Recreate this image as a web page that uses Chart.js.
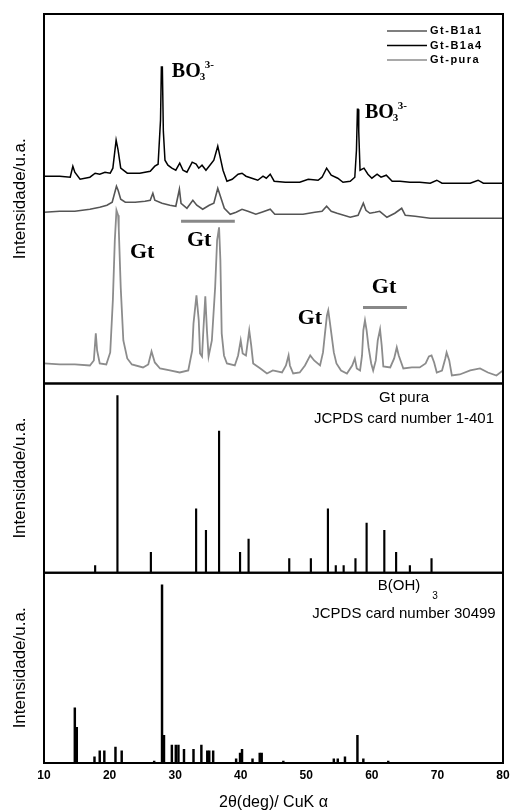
<!DOCTYPE html>
<html>
<head>
<meta charset="utf-8">
<title>DRX goethita</title>
<script src="https://cdn.jsdelivr.net/npm/chart.js@4.4.1/dist/chart.umd.min.js"></script>
<style>
  html, body { margin: 0; padding: 0; background: #fff; }
  #wrap { width: 510px; height: 812px; position: relative; }
</style>
</head>
<body>
<div id="wrap"><canvas id="xrd"></canvas></div>
<script>
// 2θ axis labels
const angleTicks = [10, 20, 30, 40, 50, 60, 70, 80];

// Gt-B1a4 (top trace, stacked intensity)
const b1a4Angle = [10, 12.4, 14.0, 14.4, 14.7, 15.5, 17.0, 17.8, 18.5, 19.3, 20.1, 20.5, 21.0, 21.3, 21.7, 22.7, 24.6, 26.2, 26.9, 27.4,
  27.77, 27.9, 28.05, 28.2, 28.45, 28.9, 29.5, 30.1, 30.7, 31.2, 31.8, 32.6, 33.2, 33.6, 34.1, 34.7, 35.3, 35.9, 36.5, 36.8,
  37.3, 37.9, 38.7, 39.6, 40.2, 40.8, 41.7, 42.6, 43.4, 43.9, 44.5, 45.1, 46.8, 49.0, 50.3, 51.8, 52.4, 53.1, 53.8, 54.8,
  55.6, 56.7, 57.4, 57.65, 57.8, 57.9, 58.0, 58.2, 58.8, 59.4, 60.0, 60.8, 61.4, 62.2, 63.1, 64.3, 65.8, 67.3, 68.9, 69.9,
  70.7, 72.7, 75.0, 76.2, 77.0, 80.0];
const b1a4Int = [207, 207, 206, 217, 211, 204, 206, 210, 209, 211, 210, 215, 243, 233, 215, 210, 210, 212, 217, 219,
  263, 316, 316, 252, 223, 218, 215, 213, 220, 213, 211, 221, 219, 215, 218, 213, 218, 223, 237, 228,
  213, 202, 204, 209, 210, 207, 205, 203, 207, 205, 209, 202, 201, 201, 204, 203, 206, 215, 208, 205,
  201, 202, 206, 233, 274, 274, 252, 213, 215, 209, 205, 209, 206, 208, 202, 202, 201, 201, 200, 203,
  200, 200, 200, 203, 200, 200];

// Gt-B1a1 (middle trace)
const b1a1Angle = [10, 12.4, 14.7, 17.0, 18.5, 19.6, 20.4, 21.05, 21.3, 21.7, 22.4, 23.9, 25.4, 26.2, 26.6, 26.9, 28.0, 29.2, 30.1, 30.65,
  30.9, 31.8, 32.7, 33.3, 34.2, 35.2, 35.9, 36.5, 36.8, 37.5, 38.4, 39.3, 40.2, 41.1, 42.3, 43.2, 44.5, 45.2, 47.5, 49.5,
  51.3, 52.4, 53.1, 53.8, 54.7, 56.7, 57.9, 58.7, 59.1, 59.7, 60.5, 61.2, 62.3, 63.5, 64.55, 65.1, 66.6, 68.9, 71.9, 75.0,
  78.0, 80.0];
const b1a1Int = [171, 172, 172, 174, 176, 178, 181, 197, 193, 184, 181, 181, 182, 183, 190, 183, 180, 178, 177, 194,
  180, 175, 183, 178, 174, 178, 180, 195, 189, 175, 169, 171, 174, 172, 169, 171, 174, 169, 169, 169,
  171, 172, 177, 172, 170, 166, 168, 180, 173, 170, 171, 172, 166, 170, 175, 168, 167, 165, 165, 165,
  165, 165];

// Gt-pura (bottom trace)
const puraAngle = [10, 12.4, 14.7, 17.0, 17.6, 17.9, 18.1, 18.5, 19.5, 20.1, 20.5, 20.8, 21.05, 21.3, 21.4, 21.7, 22.1, 22.7, 23.4, 25.1,
  25.9, 26.4, 26.9, 27.7, 29.2, 30.7, 32.0, 32.6, 32.8, 33.25, 33.6, 33.8, 34.1, 34.3, 34.6, 34.85, 35.1, 35.6, 36.1, 36.4,
  36.7, 36.9, 37.1, 37.45, 37.9, 39.1, 39.6, 40.0, 40.3, 40.8, 41.3, 41.6, 41.9, 43.0, 44.0, 44.9, 46.3, 46.9, 47.3, 47.5,
  48.0, 49.0, 49.8, 50.6, 51.2, 52.1, 52.55, 52.85, 53.15, 53.35, 53.6, 53.9, 54.2, 54.6, 55.3, 56.2, 57.0, 57.4, 57.7, 58.2,
  58.5, 58.7, 58.95, 59.2, 59.5, 59.9, 60.2, 60.6, 60.9, 61.25, 61.5, 61.75, 62.8, 63.4, 63.8, 64.1, 64.8, 66.1, 67.3, 68.2,
  68.7, 69.1, 69.5, 69.9, 70.7, 71.2, 71.4, 71.8, 72.2, 73.4, 75.0, 76.5, 77.7, 79.0, 80.0];
const puraInt = [20, 19, 19, 18, 23, 50, 33, 20, 19, 31, 83, 143, 173, 168, 155, 96, 43, 25, 19, 16,
  19, 32, 21, 15, 13, 11, 13, 33, 60, 88, 63, 30, 27, 53, 87, 53, 27, 43, 96, 143,
  156, 123, 50, 28, 20, 18, 28, 43, 30, 28, 53, 38, 20, 15, 10, 13, 11, 18, 28, 18,
  10, 11, 18, 28, 23, 18, 31, 50, 68, 73, 61, 46, 31, 20, 13, 10, 18, 25, 15, 13,
  28, 53, 63, 53, 36, 20, 13, 23, 43, 54, 38, 17, 16, 25, 36, 28, 15, 16, 16, 20,
  27, 28, 21, 11, 13, 25, 31, 23, 8, 9, 13, 15, 11, 8, 13];

// goethite reference lines, JCPDS 1-401 (relative intensity)
const gtCardAngle = [17.8, 21.2, 26.3, 33.2, 34.7, 36.7, 39.9, 41.2, 47.4, 50.7, 53.3, 54.5, 55.7, 57.5, 59.2, 61.9, 63.7, 65.8, 69.1];
const gtCardInt = [4, 100, 11.5, 36, 24, 80, 11.5, 19, 8, 8, 36, 4, 4, 8, 28, 24, 11.5, 4, 8];

// boric acid reference lines, JCPDS 30499 (relative intensity)
const bohCardAngle = [14.7, 15.0, 17.7, 18.5, 19.2, 20.9, 21.85, 26.8, 28.0, 28.3, 29.5, 30.1, 30.5, 31.35, 32.8, 34.0, 34.9, 35.2, 35.8,
  39.3, 39.9, 40.2, 41.8, 42.9, 43.2, 46.5, 54.2, 54.8, 55.9, 57.8, 58.7, 62.5];
const bohCardInt = [31, 20, 3.4, 6.8, 6.8, 9, 6.8, 1.1, 100, 15.6, 10, 10, 10, 7.7, 7.7, 10, 6.8, 6.8, 6.8,
  2.4, 5.6, 7.7, 2.4, 5.6, 5.6, 1.1, 2.3, 2.3, 3.4, 15.6, 2.3, 1.1];

const toPoints = (xs, ys) => xs.map((a, i) => ({ x: a, y: ys[i] }));

const SANS = '"Liberation Sans", Arial, sans-serif';
const SERIF = '"Liberation Serif", "Times New Roman", serif';

// box around each stacked panel
const panelFrames = {
  id: 'panelFrames',
  afterDatasetsDraw(chart) {
    const { ctx, chartArea, scales } = chart;
    ctx.save();
    ctx.strokeStyle = '#000';
    ctx.lineWidth = 2;
    ['yTop', 'yMid', 'yBot'].forEach(id => {
      const s = scales[id];
      ctx.strokeRect(chartArea.left, s.top, chartArea.right - chartArea.left, s.bottom - s.top);
    });
    ctx.restore();
  }
};

// peak labels, legend and card captions
const xrdLabels = {
  id: 'xrdLabels',
  afterDatasetsDraw(chart) {
    const { ctx, chartArea, scales: { x, yTop, yMid, yBot } } = chart;
    const px = v => x.getPixelForValue(v);
    const py = v => yTop.getPixelForValue(v);
    ctx.save();
    ctx.fillStyle = '#000';
    ctx.textBaseline = 'alphabetic';

    const borate = (deg, val) => {
      const cx = px(deg), cy = py(val);
      ctx.textAlign = 'left';
      ctx.font = 'bold 20px ' + SERIF;
      ctx.fillText('BO', cx, cy);
      const w = ctx.measureText('BO').width;
      ctx.font = 'bold 11px ' + SERIF;
      ctx.fillText('3', cx + w - 1, cy + 3);
      ctx.fillText('3-', cx + w + 4, cy - 9);
    };
    borate(29.5, 306);
    borate(58.95, 265);

    ctx.font = 'bold 22px ' + SERIF;
    ctx.textAlign = 'left';
    [[23.1, 125], [31.8, 137], [48.7, 59], [60.0, 90]].forEach(([d, v]) => ctx.fillText('Gt', px(d), py(v)));

    ctx.strokeStyle = '#888';
    ctx.lineWidth = 3;
    [[30.9, 39.1, 162], [58.65, 65.35, 76]].forEach(([a, b, v]) => {
      ctx.beginPath();
      ctx.moveTo(px(a), py(v));
      ctx.lineTo(px(b), py(v));
      ctx.stroke();
    });

    // legend
    const r = chartArea.right;
    ctx.font = 'bold 11px ' + SANS;
    ctx.textBaseline = 'middle';
    ctx.letterSpacing = '1.5px';
    ctx.lineWidth = 1.5;
    const lineSets = chart.data.datasets.filter(d => d.type === 'line');
    lineSets.forEach((d, i) => {
      const y = yTop.top + 17 + i * 14.5;
      ctx.strokeStyle = d.borderColor;
      ctx.beginPath();
      ctx.moveTo(r - 116, y);
      ctx.lineTo(r - 76, y);
      ctx.stroke();
      ctx.fillText(d.label, r - 73, y);
    });
    ctx.letterSpacing = '0px';

    // card captions
    ctx.textBaseline = 'alphabetic';
    ctx.textAlign = 'center';
    ctx.font = '15px ' + SANS;
    const cx = r - 99;
    ctx.fillText('Gt pura', cx, yMid.top + 19);
    ctx.fillText('JCPDS card number 1-401', cx, yMid.top + 40);
    ctx.fillText('B(OH)', cx - 5, yBot.top + 17);
    ctx.font = '10px ' + SANS;
    ctx.fillText('3', cx + 31, yBot.top + 26);
    ctx.font = '15px ' + SANS;
    ctx.fillText('JCPDS card number 30499', cx, yBot.top + 45);
    ctx.restore();
  }
};

const yTitle = {
  display: true,
  text: 'Intensidade/u.a.',
  color: '#000',
  font: { family: SANS, size: 17 },
  padding: { top: 10, bottom: 0 }
};

const panelAxis = (weight, max) => ({
  type: 'linear',
  position: 'left',
  stack: 'xrd',
  stackWeight: weight,
  min: 0,
  max: max,
  ticks: { display: false },
  grid: { display: false, drawTicks: false },
  border: { display: false },
  title: yTitle,
  afterFit: s => { s.width = 44; }
});

new Chart(document.getElementById('xrd'), {
  type: 'line',
  data: {
    datasets: [
      { type: 'line', label: 'Gt-B1a1', data: toPoints(b1a1Angle, b1a1Int), yAxisID: 'yTop',
        borderColor: '#555', borderWidth: 1.6, pointRadius: 0, tension: 0 },
      { type: 'line', label: 'Gt-B1a4', data: toPoints(b1a4Angle, b1a4Int), yAxisID: 'yTop',
        borderColor: '#000', borderWidth: 1.5, pointRadius: 0, tension: 0 },
      { type: 'line', label: 'Gt-pura', data: toPoints(puraAngle, puraInt), yAxisID: 'yTop',
        borderColor: '#8c8c8c', borderWidth: 1.8, pointRadius: 0, tension: 0 },
      { type: 'bar', label: 'JCPDS 1-401', data: toPoints(gtCardAngle, gtCardInt), yAxisID: 'yMid',
        backgroundColor: '#000', barThickness: 1.5, grouped: false, borderWidth: 0 },
      { type: 'bar', label: 'JCPDS 30499', data: toPoints(bohCardAngle, bohCardInt), yAxisID: 'yBot',
        backgroundColor: '#000', barThickness: 1.8, grouped: false, borderWidth: 0 }
    ]
  },
  options: {
    responsive: true,
    maintainAspectRatio: false,
    animation: false,
    devicePixelRatio: 1,
    layout: { padding: { top: 14, right: 7, left: 0, bottom: 0 } },
    plugins: { legend: { display: false }, tooltip: { enabled: false } },
    scales: {
      x: {
        type: 'linear',
        position: 'bottom',
        min: 10,
        max: 80,
        offset: false,
        afterBuildTicks: s => { s.ticks = angleTicks.map(v => ({ value: v })); },
        ticks: { color: '#000', padding: 5, maxRotation: 0, autoSkip: false,
          font: { family: SANS, size: 12, weight: 'bold' } },
        grid: { display: false, drawTicks: false },
        border: { display: false },
        title: { display: true, text: '2θ(deg)/ CuK α', color: '#000',
          font: { family: SANS, size: 16 }, padding: { top: 6, bottom: 0 } },
        afterFit: s => {
          s.height = 49;
          // the end labels may hang over the plot edges
          s.paddingLeft = 0;
          s.paddingRight = 0;
        }
      },
      yBot: panelAxis(190, 106.8),
      yMid: panelAxis(189, 106.8),
      yTop: panelAxis(369, 369)
    }
  },
  plugins: [panelFrames, xrdLabels]
});
</script>
</body>
</html>
